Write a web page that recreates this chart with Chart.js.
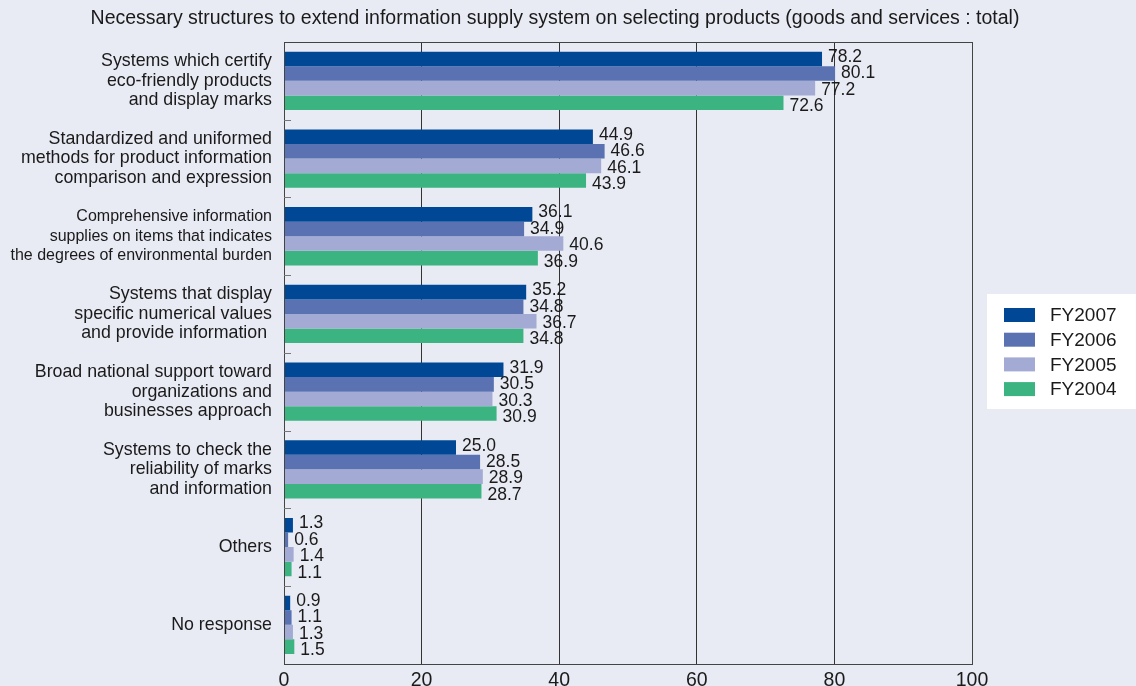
<!DOCTYPE html>
<html>
<head>
<meta charset="utf-8">
<script src="https://cdn.jsdelivr.net/npm/chart.js@4.4.1/dist/chart.umd.min.js"></script>
<style>
  html, body { margin: 0; padding: 0; background: #e8eaf4; overflow: hidden; }
  canvas { display: block; }
</style>
</head>
<body>
<canvas id="chart" width="1136" height="705"></canvas>
<script>
// Survey items (multi-line labels as shown on the axis)
const categories = [
  ['Systems which certify', 'eco-friendly products', 'and display marks'],
  ['Standardized and uniformed', 'methods for product information', 'comparison and expression'],
  ['Comprehensive information', 'supplies on items that indicates', 'the degrees of environmental burden'],
  ['Systems that display', 'specific numerical values', 'and provide information '],
  ['Broad national support toward', 'organizations and', 'businesses approach'],
  ['Systems to check the', 'reliability of marks', 'and information'],
  'Others',
  'No response'
];

const seriesNames = ['FY2007', 'FY2006', 'FY2005', 'FY2004'];

// Percentages per fiscal year
const fy2007 = [78.2, 44.9, 36.1, 35.2, 31.9, 25.0, 1.3, 0.9];
const fy2006 = [80.1, 46.6, 34.9, 34.8, 30.5, 28.5, 0.6, 1.1];
const fy2005 = [77.2, 46.1, 40.6, 36.7, 30.3, 28.9, 1.4, 1.3];
const fy2004 = [72.6, 43.9, 36.9, 34.8, 30.9, 28.7, 1.1, 1.5];

const xTicks = [0, 20, 40, 60, 80, 100];

const colors = ['#004896', '#5a72b2', '#a3abd4', '#3bb482'];
const FONT = '"Liberation Sans", Arial, Helvetica, sans-serif';
const TITLE = 'Necessary structures to extend information supply system on selecting products (goods and services : total)';

const seriesValues = [fy2007, fy2006, fy2005, fy2004];
const datasets = seriesNames.map((name, i) => ({
  label: name,
  data: seriesValues[i],
  backgroundColor: colors[i],
  borderWidth: 0,
  categoryPercentage: 0.75,
  barPercentage: 1.0
}));

// Title, frame, inward category ticks, value labels and legend box
const decorations = {
  id: 'decorations',
  beforeDraw(chart) {
    const ctx = chart.ctx;
    ctx.save();
    ctx.fillStyle = '#e8eaf4';
    ctx.fillRect(0, 0, chart.width, chart.height);
    ctx.restore();
  },
  afterDatasetsDraw(chart) {
    const ctx = chart.ctx;
    const area = chart.chartArea;
    const y = chart.scales.y;

    // frame
    ctx.save();
    ctx.strokeStyle = '#444';
    ctx.lineWidth = 1;
    ctx.strokeRect(Math.round(area.left) + 0.5, Math.round(area.top) + 0.5,
                   Math.round(area.right - area.left), Math.round(area.bottom - area.top));

    // short ticks between categories
    ctx.strokeStyle = '#777';
    const n = categories.length;
    for (let i = 0; i < n - 1; i++) {
      const yy = Math.round((y.getPixelForValue(i) + y.getPixelForValue(i + 1)) / 2) + 0.5;
      ctx.beginPath();
      ctx.moveTo(area.left, yy);
      ctx.lineTo(area.left + 7, yy);
      ctx.stroke();
    }

    // value labels, spread slightly apart around the category centre
    ctx.fillStyle = '#1a1a1a';
    ctx.font = '17.5px ' + FONT;
    ctx.textAlign = 'left';
    ctx.textBaseline = 'middle';
    chart.data.datasets.forEach((ds, di) => {
      const meta = chart.getDatasetMeta(di);
      meta.data.forEach((bar, i) => {
        const c = y.getPixelForValue(i);
        const ly = bar.y + (bar.y - c) * 0.13 + 1;
        ctx.fillText(ds.data[i].toFixed(1), bar.x + 6, ly);
      });
    });

    // title
    ctx.font = '19.5px ' + FONT;
    ctx.textAlign = 'center';
    ctx.fillText(TITLE, 555, 19);

    // legend
    ctx.fillStyle = '#ffffff';
    ctx.fillRect(987, 294, 149, 115);
    ctx.font = '19px ' + FONT;
    ctx.textAlign = 'left';
    chart.data.datasets.forEach((ds, di) => {
      const cy = 315 + di * 24.7;
      ctx.fillStyle = ds.backgroundColor;
      ctx.fillRect(1004, cy - 7, 31, 14);
      ctx.fillStyle = '#1a1a1a';
      ctx.fillText(ds.label, 1050, cy + 1);
    });
    ctx.restore();
  }
};

new Chart(document.getElementById('chart'), {
  type: 'bar',
  data: { labels: categories, datasets },
  options: {
    indexAxis: 'y',
    responsive: false,
    animation: false,
    devicePixelRatio: 1,
    layout: { padding: { top: 42, right: 164, left: 0, bottom: 0 } },
    plugins: {
      legend: { display: false },
      tooltip: { enabled: false },
      title: { display: false }
    },
    scales: {
      x: {
        min: 0,
        max: 100,
        afterBuildTicks(scale) { scale.ticks = xTicks.map(v => ({ value: v })); },
        afterFit(scale) { scale.height = 38; },
        grid: { color: '#333', lineWidth: 1, drawTicks: false },
        border: { display: false },
        ticks: { color: '#1a1a1a', font: { family: FONT, size: 19.5 }, padding: 5 }
      },
      y: {
        afterFit(scale) { scale.width = 284; },
        grid: { display: false, drawTicks: false },
        border: { display: false },
        ticks: {
          color: '#1a1a1a',
          padding: 12,
          font: (c) => c.index === 2
            ? { family: FONT, size: 16, lineHeight: 1.2 }
            : { family: FONT, size: 17.8, lineHeight: 1.1 }
        }
      }
    }
  },
  plugins: [decorations]
});
</script>
</body>
</html>
